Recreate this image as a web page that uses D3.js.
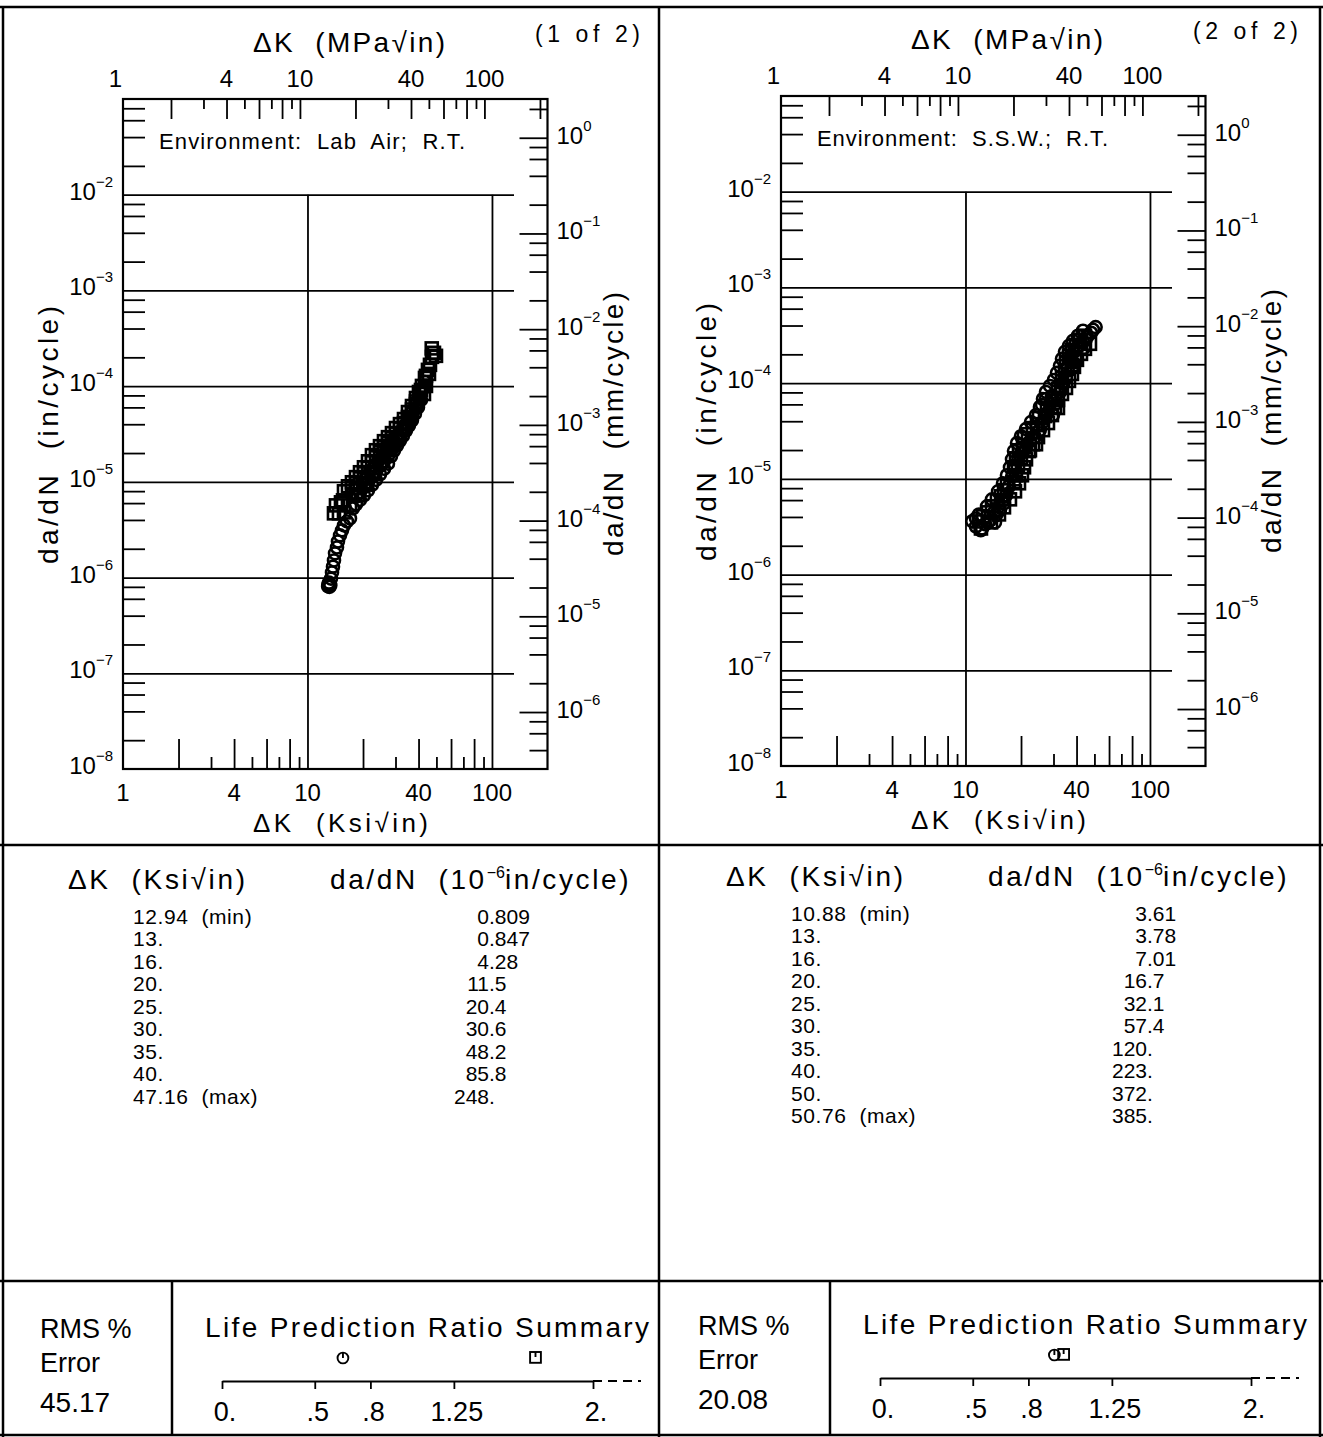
<!DOCTYPE html>
<html>
<head>
<meta charset="utf-8">
<script src="https://cdn.jsdelivr.net/npm/d3@7"></script>
<style>
  html, body { margin: 0; padding: 0; background: #fff; }
  svg text { font-family: "Liberation Sans", Arial, sans-serif; fill: #000; white-space: pre; }
</style>
</head>
<body>
<svg id="chart" width="1323" height="1437" xmlns="http://www.w3.org/2000/svg"></svg>
<script>
// ---------------- data ----------------
// crack growth rate points: [deltaK (ksi*sqrt(in)), da/dN (1e-6 in/cycle)]
const airCircles = [
  [12.94,0.809],[13.0,0.847],[13.15,0.80],[13.3,0.83],[13.08,0.886],[13.41,0.976],[13.58,1.13],[13.75,1.30],
  [13.92,1.51],[14.10,1.79],[14.45,2.06],[14.63,2.38],[15.01,2.76],[15.38,3.11],[15.77,3.51],[16.37,3.86],[17.00,4.15],
  [17.64,5.29],[18.32,5.82],[19.26,6.49],[20.24,7.24],[21.28,8.16],[22.36,9.30],[23.51,10.5],[24.72,12.0],
  [25.98,13.7],[27.31,15.5],[28.36,18.5],[29.43,21.2],[30.56,24.0],[31.72,27.0],[32.93,30.3],[34.19,34.4],
  [35.49,38.7],[36.85,43.9],[38.25,51.6],[39.71,60.0],[41.23,71.8],
  [17.42,7.41],[18.55,8.57],[19.74,9.90],[20.76,11.2],[21.82,12.9],[22.93,14.6],[24.11,16.4],[25.33,18.5],
  [26.64,20.9],[28.00,23.6],[29.43,26.6],[30.94,30.1],[32.52,34.7],[34.19,40.1],[35.94,46.4],[37.31,55.0],
  [38.73,63.5],[40.21,75.2],[41.74,91.2],[43.34,110.6],
  [18.32,6.96],[19.26,7.78],[20.24,8.78],[21.28,9.90],[22.36,11.3],[23.51,12.8],[24.72,14.6],[25.98,16.4],
  [27.31,18.5],[28.71,22.1],[30.18,25.5],[31.72,29.5],[33.35,34.4],[35.05,40.1],[36.85,47.6],[38.73,58.7],
  [40.72,73.8]
];
const airSquares = [
  [13.92,4.69],[14.81,4.69],[15.77,4.80],[14.27,5.68],[15.19,6.11],[15.58,6.41],
  [15.77,7.97],[16.58,8.99],[17.42,9.90],[18.32,11.2],[19.26,12.6],[20.24,14.2],[21.28,16.4],[22.36,19.0],
  [23.51,21.4],[24.72,23.6],[25.98,26.6],[27.31,29.3],[28.71,32.3],[30.18,36.5],[31.72,40.1],[33.35,45.3],
  [35.05,53.6],[36.85,62.0],[38.73,75.2],[40.21,86.9],[41.74,100.5],[43.34,121.9],[44.99,147.9],[46.13,166.9],
  [47.30,202.3],[48.49,222.8],[47.16,248],[49.72,207.3],
  [42.80,82.8],[43.88,100.5],[45.56,134.3],
  [17.0,5.68],[18.78,7.24],[20.76,9.44],[22.93,12.6],[25.33,16.4],[28.0,21.97],[30.56,27.9],[33.35,36.5],
  [35.94,47.5],[38.73,65.1],[41.23,91.2],[43.88,128],
  [17.42,8.57],[18.32,9.66],[19.26,10.9],[20.24,12.3],[21.28,14.05],[22.36,16.0],[23.51,18.1],[24.72,20.4],
  [25.98,23.0],[27.31,25.4],[28.71,28.6],[30.18,31.9],[31.72,36.0],[33.35,41.1],[35.05,47.5],[36.85,57.0],
  [38.73,69.1],[40.72,85.9]
];
const sswCircles = [
  [10.88,3.61],[11.4,3.18],[12.1,2.9],[12.8,3.34],[13.6,3.68],[14.45,3.51],[14.3,4.47],[15.2,5.16],[16.0,5.97],
  [16.6,6.73],[17.2,8.37],[17.9,10.65],[18.55,12.9],[19.3,15.7],[20.0,18.5],[21.3,20.9],[22.4,24.8],[23.8,27.3],
  [25.3,32.3],[26.3,39.2],[26.0,59.1],[27.3,68.3],[28.7,60.5],[29.4,73.4],[28.0,49.9],[29.8,46.4],[31.3,62.0],
  [32.5,80.9],[33.8,98.1],[35.05,116],[35.9,144],[37.3,175],[38.7,212],[40.7,239],[43.3,270],[45.6,305],
  [47.9,336],[50.76,385],[49.1,361],[43.9,234],
  [11.4,3.86],[12.3,3.03],[13.24,3.51],[15.38,4.69],[16.17,5.55],[14.63,4.15],
  [11.83,4.25],[13.08,5.16],[13.92,6.11],[15.01,7.41],[15.97,8.99],[16.78,10.9],[17.42,13.2],[17.87,16.0],
  [18.32,19.5],[19.02,23.6],[19.99,27.9],[21.28,33.1],[22.65,39.2],[24.11,46.4],[25.33,56.3],[26.31,68.3],
  [27.31,80.9],[28.71,93.5],[30.18,108.0],[31.33,127.9],[32.52,151.5],[33.35,179.4],[34.62,212.3],
  [36.39,245.5],[38.25,276.9],[40.72,312.6],[43.34,352.5]
];
const sswSquares = [
  [11.83,3.59],[12.44,4.06],[13.24,4.47],[13.92,5.16],[14.81,5.97],[15.58,6.57],[16.17,7.59],[16.78,8.78],
  [18.32,9.21],[18.78,10.9],[18.32,13.2],[19.26,13.55],[18.78,16.4],[19.99,16.4],[19.50,19.9],[20.50,22.5],
  [20.76,26.6],[21.82,29.3],[23.22,33.9],[24.41,37.3],[25.02,43.2],[26.96,45.3],[27.65,53.6],[30.56,70.0],
  [31.72,86.9],[32.93,93.4],[33.35,113],[34.62,137],[35.05,167],[36.39,193],[37.77,223],[39.22,184],
  [39.71,251],[41.74,284],[44.43,313],[37.77,155],[31.72,55.0],[24.11,23.0],[22.36,19.9],
  [12.13,3.03],[13.75,3.51],[15.19,4.25],[16.17,5.04],[17.42,6.11],[18.55,7.41],[19.50,8.99],[20.24,10.9],
  [20.76,13.2],[21.28,16.0],[22.09,19.5],[23.22,23.0],[24.72,27.3],[26.31,32.3],[28.00,38.3],[29.43,46.4],
  [30.56,56.3],[31.72,66.7],[33.35,77.1],[35.05,89.1],[36.39,105.5],[37.77,124.8],[38.73,147.9],[40.21,175.1],
  [42.27,202.3],[44.43,228.3],[47.30,257.6]
];

// tabulated rates
const airTableK    = ["12.94  (min)","13.","16.","20.","25.","30.","35.","40.","47.16  (max)"];
const airTableRate = ["0.809","0.847","4.28","11.5","20.4","30.6","48.2","85.8","248."];
const sswTableK    = ["10.88  (min)","13.","16.","20.","25.","30.","35.","40.","50.","50.76  (max)"];
const sswTableRate = ["3.61","3.78","7.01","16.7","32.1","57.4","120.","223.","372.","385."];

// tick labels
const ksiLabelTicks = [1, 4, 10, 40, 100];
const mpaLabelTicks = [1, 4, 10, 40, 100];
const inDecadeExps  = [-8, -7, -6, -5, -4, -3, -2];
const mmDecadeExps  = [-6, -5, -4, -3, -2, -1, 0];
const ratioTicks      = [0, 0.5, 0.8, 1.25, 2];
const ratioTickLabels = ["0.", ".5", ".8", "1.25", "2."];

// life prediction summary: [circle series, square series]
const airLifeRatios = [0.652, 1.69];
const sswLifeRatios = [0.94, 0.99];
const rmsErrors = ["45.17", "20.08"];

// ---------------- drawing ----------------
const svg = d3.select("#chart");
const MPA_PER_KSI = 1.0988;
const IN_TO_MM = 25.4;

// page frame and dividers
const frame = svg.append("g").attr("stroke", "#000").attr("stroke-width", 2.5);
[[0,7,1323,7],[0,845,1323,845],[0,1281,1323,1281],[0,1435,1323,1435],
 [3,7,3,1437],[659,7,659,1437],[1320,7,1320,1437],[172,1281,172,1435],[830,1281,830,1435]]
  .forEach(([a,b,c,d]) => frame.append("line").attr("x1",a).attr("y1",b).attr("x2",c).attr("y2",d));

function supText(g, x, y, anchor, size, base, sup, supSize, rise) {
  const t = g.append("text").attr("x", x).attr("y", y).attr("text-anchor", anchor).attr("font-size", size);
  t.append("tspan").text(base);
  t.append("tspan").attr("dy", -rise).attr("font-size", supSize).text(sup);
  return t;
}

function minorValues(lo, hi, mults) {
  const out = [];
  for (let e = Math.floor(Math.log10(lo)) - 1; e <= Math.ceil(Math.log10(hi)); e++) {
    mults.forEach(m => { const v = m * Math.pow(10, e); if (v > lo * 1.0001 && v < hi * 0.9999) out.push(v); });
  }
  return out;
}

function tickAxis(g, axis, tx, ty) {
  const a = g.append("g").attr("transform", `translate(${tx},${ty})`).call(axis);
  a.select(".domain").remove();
  a.selectAll("line").attr("stroke", "#000").attr("stroke-width", 1.8);
  a.selectAll("text").remove();
  return a;
}

function drawPanel(p) {
  const g = svg.append("g").attr("transform", `translate(${p.dx},${p.dy})`);
  const x0 = 123, y0 = 99, W = 424.5, H = 670;
  const x1 = x0 + W, y1 = y0 + H;

  const x    = d3.scaleLog().domain([1, 200]).range([x0, x1]);
  const xMpa = d3.scaleLog().domain([MPA_PER_KSI, 200 * MPA_PER_KSI]).range([x0, x1]);
  const y    = d3.scaleLog().domain([1e-8, 1e-1]).range([y1, y0]);
  const yMm  = d3.scaleLog().domain([1e-8 * IN_TO_MM, 1e-1 * IN_TO_MM]).range([y1, y0]);

  // grid
  tickAxis(g, d3.axisRight(y).tickValues([1e-7,1e-6,1e-5,1e-4,1e-3,1e-2]).tickSize(391).tickFormat(""), x0, 0);
  tickAxis(g, d3.axisTop(x).tickValues([10, 100]).tickSize(y1 - y(1e-2)).tickFormat(""), 0, y1);

  // bottom ksi ticks
  tickAxis(g, d3.axisTop(x).tickValues([2,4,6,8,20,40,60,80]).tickSize(30).tickFormat(""), 0, y1);
  tickAxis(g, d3.axisTop(x).tickValues([3,5,7,9,30,50,70,90]).tickSize(12).tickFormat(""), 0, y1);
  // top MPa ticks
  tickAxis(g, d3.axisBottom(xMpa).tickValues([2,4,6,8,10,20,40,60,80,100,200]).tickSize(20).tickFormat(""), 0, y0);
  tickAxis(g, d3.axisBottom(xMpa).tickValues([3,5,7,9,30,50,70,90]).tickSize(10).tickFormat(""), 0, y0);
  // left in/cycle ticks
  tickAxis(g, d3.axisRight(y).tickValues(minorValues(1e-8, 1e-1, [2,4,6,8])).tickSize(22).tickFormat(""), x0, 0);
  // right mm/cycle ticks
  tickAxis(g, d3.axisLeft(yMm).tickValues(mmDecadeExps.map(e => Math.pow(10, e))).tickSize(28).tickFormat(""), x1, 0);
  tickAxis(g, d3.axisLeft(yMm).tickValues(minorValues(1e-8 * IN_TO_MM, 1e-1 * IN_TO_MM, [2,4,6,8])).tickSize(18).tickFormat(""), x1, 0);

  g.append("rect").attr("x", x0).attr("y", y0).attr("width", W).attr("height", H)
    .attr("fill", "none").attr("stroke", "#000").attr("stroke-width", 2.2);

  // tick labels
  ksiLabelTicks.forEach(v => g.append("text").attr("x", x(v)).attr("y", y1 + 32)
    .attr("text-anchor", "middle").attr("font-size", 24).text(v));
  mpaLabelTicks.forEach(v => g.append("text").attr("x", xMpa(v)).attr("y", y0 - 12)
    .attr("text-anchor", "middle").attr("font-size", 24).text(v));
  inDecadeExps.forEach(e => supText(g, x0 - 10, y(Math.pow(10, e)) + 5, "end", 24, "10", "\u2212" + (-e), 15, 13));
  mmDecadeExps.forEach(e => supText(g, x1 + 9, yMm(Math.pow(10, e)) + 6, "start", 24, "10",
    e === 0 ? "0" : "\u2212" + (-e), 15, 13));

  // titles
  g.append("text").attr("x", 253).attr("y", 52).attr("font-size", 28).attr("textLength", 192)
    .attr("lengthAdjust", "spacing").text("\u0394K  (MPa\u221Ain)");
  g.append("text").attr("x", 253).attr("y", 832).attr("font-size", 26).attr("textLength", 175)
    .attr("lengthAdjust", "spacing").text("\u0394K  (Ksi\u221Ain)");
  g.append("text").attr("x", 535).attr("y", 42).attr("font-size", 23).attr("textLength", 105)
    .attr("lengthAdjust", "spacing").text(p.page);
  g.append("text").attr("x", 159).attr("y", 149).attr("font-size", 22).attr("textLength", p.envWidth)
    .attr("lengthAdjust", "spacing").text(p.env);
  g.append("text").attr("transform", "translate(58,435) rotate(-90)").attr("text-anchor", "middle")
    .attr("font-size", 28).attr("textLength", 258).attr("lengthAdjust", "spacing").text("da/dN  (in/cycle)");
  g.append("text").attr("transform", "translate(623,424) rotate(-90)").attr("text-anchor", "middle")
    .attr("font-size", 28).attr("textLength", 264).attr("lengthAdjust", "spacing").text("da/dN  (mm/cycle)");

  // data markers (open symbols)
  const marks = g.append("g").attr("fill", "none").attr("stroke", "#000").attr("stroke-width", 2.6);
  marks.selectAll("circle").data(p.circles).join("circle")
    .attr("cx", d => x(d[0])).attr("cy", d => y(d[1] * 1e-6)).attr("r", 6);
  marks.selectAll("rect").data(p.squares).join("rect")
    .attr("x", d => x(d[0]) - 6).attr("y", d => y(d[1] * 1e-6) - 6).attr("width", 12).attr("height", 12);

  // rate table
  g.append("text").attr("x", 68).attr("y", 889).attr("font-size", 28).attr("textLength", 177)
    .attr("lengthAdjust", "spacing").text("\u0394K  (Ksi\u221Ain)");
  const hdr = g.append("text").attr("x", 330).attr("y", 889).attr("font-size", 28).attr("letter-spacing", 2.6);
  hdr.append("tspan").text("da/dN  (10");
  hdr.append("tspan").attr("dy", -11).attr("font-size", 16).attr("letter-spacing", 0).text("\u22126");
  hdr.append("tspan").attr("dy", 11).text("in/cycle)");
  const rowY = i => 924 + i * 22.45;
  p.tableK.forEach((s, i) => g.append("text").attr("x", 133).attr("y", rowY(i)).attr("font-size", 21)
    .attr("letter-spacing", 0.6).text(s));
  const decX = 489;
  p.tableRate.forEach((s, i) => {
    const k = s.indexOf(".");
    g.append("text").attr("x", decX).attr("y", rowY(i)).attr("font-size", 21).attr("text-anchor", "end").text(s.slice(0, k));
    g.append("text").attr("x", decX).attr("y", rowY(i)).attr("font-size", 21).text(s.slice(k));
  });

  // summary
  g.append("text").attr("x", 40).attr("y", 1338).attr("font-size", 27).text("RMS %");
  g.append("text").attr("x", 40).attr("y", 1372).attr("font-size", 27).text("Error");
  g.append("text").attr("x", 40).attr("y", 1412).attr("font-size", 28).text(p.rms);
  g.append("text").attr("x", 205).attr("y", 1337).attr("font-size", 28).attr("textLength", 444)
    .attr("lengthAdjust", "spacing").text("Life Prediction Ratio Summary");

  const r = d3.scaleLinear().domain([0, 2]).range([222, 593]);
  const ax = g.append("g").attr("transform", "translate(0,1381)").call(
    d3.axisBottom(r).tickValues(ratioTicks).tickSize(8).tickSizeOuter(0).tickFormat(""));
  ax.select(".domain").attr("stroke-width", 2);
  ax.selectAll("line").attr("stroke-width", 1.8);
  ax.selectAll("text").remove();
  g.append("line").attr("x1", r(2)).attr("x2", r(2) + 48).attr("y1", 1381).attr("y2", 1381)
    .attr("stroke", "#000").attr("stroke-width", 1.8).attr("stroke-dasharray", "9,6");
  ratioTicks.forEach((v, i) => g.append("text").attr("x", r(v) + 3).attr("y", 1421)
    .attr("text-anchor", "middle").attr("font-size", 27).text(ratioTickLabels[i]));

  const s = g.append("g").attr("fill", "none").attr("stroke", "#000").attr("stroke-width", 1.9);
  const cx = r(p.life[0]), sx = r(p.life[1]);
  s.append("circle").attr("cx", cx).attr("cy", 1358).attr("r", 5.4);
  s.append("line").attr("x1", cx).attr("x2", cx).attr("y1", 1353).attr("y2", 1358);
  s.append("rect").attr("x", sx - 5.4).attr("y", 1352).attr("width", 10.8).attr("height", 10.8);
  s.append("line").attr("x1", sx).attr("x2", sx).attr("y1", 1352).attr("y2", 1357);
}

drawPanel({ dx: 0, dy: 0, page: "(1 of 2)", env: "Environment:  Lab  Air;  R.T.", envWidth: 306,
  circles: airCircles, squares: airSquares, tableK: airTableK, tableRate: airTableRate,
  rms: rmsErrors[0], life: airLifeRatios });
drawPanel({ dx: 658, dy: -3, page: "(2 of 2)", env: "Environment:  S.S.W.;  R.T.", envWidth: 291,
  circles: sswCircles, squares: sswSquares, tableK: sswTableK, tableRate: sswTableRate,
  rms: rmsErrors[1], life: sswLifeRatios });
</script>
</body>
</html>
